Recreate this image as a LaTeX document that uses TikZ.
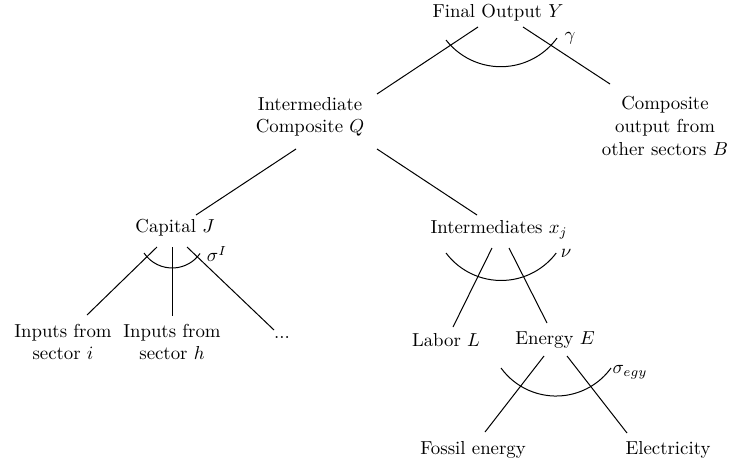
\documentclass[tikz,border=0pt]{standalone}
\begin{document}
\begin{tikzpicture}[x=0.5pt,y=0.5pt,
  lbl/.style={inner sep=2pt, align=center, scale=0.94},
  edge/.style={line width=0.5pt},
  elas/.style={line width=0.5pt}]
\useasboundingbox (0,0) rectangle (731,-466);
% nodes
\node[lbl] (F) at (498,-13) {Final Output $Y$};
\node[lbl] (Q) at (310,-117) {Intermediate\\Composite $Q$};
\node[lbl] (B) at (665,-126) {Composite\\output from\\other sectors $B$};
\node[lbl] (C) at (175,-228) {Capital $J$};
\node[lbl] (I) at (499,-230) {Intermediates $x_j$};
\node[lbl] (Si) at (63,-342) {Inputs from\\sector $i$};
\node[lbl] (Sh) at (172,-342) {Inputs from\\sector $h$};
\node[lbl] (D) at (282,-337) {...};
\node[lbl] (L) at (446,-340) {Labor $L$};
\node[lbl] (E) at (555,-340) {Energy $E$};
\node[lbl] (Fo) at (473,-450) {Fossil energy};
\node[lbl] (El) at (668,-450) {Electricity};
% elasticity labels
\node[lbl] (gam) at (570,-38) {$\gamma$};
\node[lbl] (sI) at (217,-254) {$\sigma^I$};
\node[lbl] (nu) at (566,-253) {$\nu$};
\node[lbl] (segy) at (630,-372) {$\sigma_{egy}$};
% connectors
\draw[edge] ([shift={(-20,-14)}]F.center) -- ([shift={(67,23)}]Q.center);
\draw[edge] ([shift={(25,-14)}]F.center) -- ([shift={(-55,42)}]B.center);
\draw[edge] ([shift={(-14,-32)}]Q.center) -- ([shift={(21,13)}]C.center);
\draw[edge] ([shift={(67,-32)}]Q.center) -- ([shift={(-22,15)}]I.center);
\draw[edge] ([shift={(-18,-19)}]C.center) -- ([shift={(24,27)}]Si.center);
\draw[edge] ([shift={(-3,-19)}]C.center) -- ([shift={(0,26)}]Sh.center);
\draw[edge] ([shift={(12,-19)}]C.center) -- ([shift={(-8,7)}]D.center);
\draw[edge] ([shift={(-7,-18)}]I.center) -- ([shift={(7,13)}]L.center);
\draw[edge] ([shift={(10,-18)}]I.center) -- ([shift={(-8,17)}]E.center);
\draw[edge] ([shift={(-11,-16)}]E.center) -- ([shift={(12,18)}]Fo.center);
\draw[edge] ([shift={(12,-16)}]E.center) -- ([shift={(-41,17)}]El.center);
% elasticity arcs
\draw[elas] ([shift={(-52,-27)}]F.center) arc[start angle=218, end angle=324, radius=69.5];
\draw[elas] ([shift={(-31,-25)}]C.center) arc[start angle=214, end angle=325, radius=34];
\draw[elas] ([shift={(-53,-23)}]I.center) arc[start angle=217, end angle=323, radius=69];
\draw[elas] ([shift={(-54,-28)}]E.center) arc[start angle=216, end angle=324, radius=68];
\end{tikzpicture}
\end{document}
